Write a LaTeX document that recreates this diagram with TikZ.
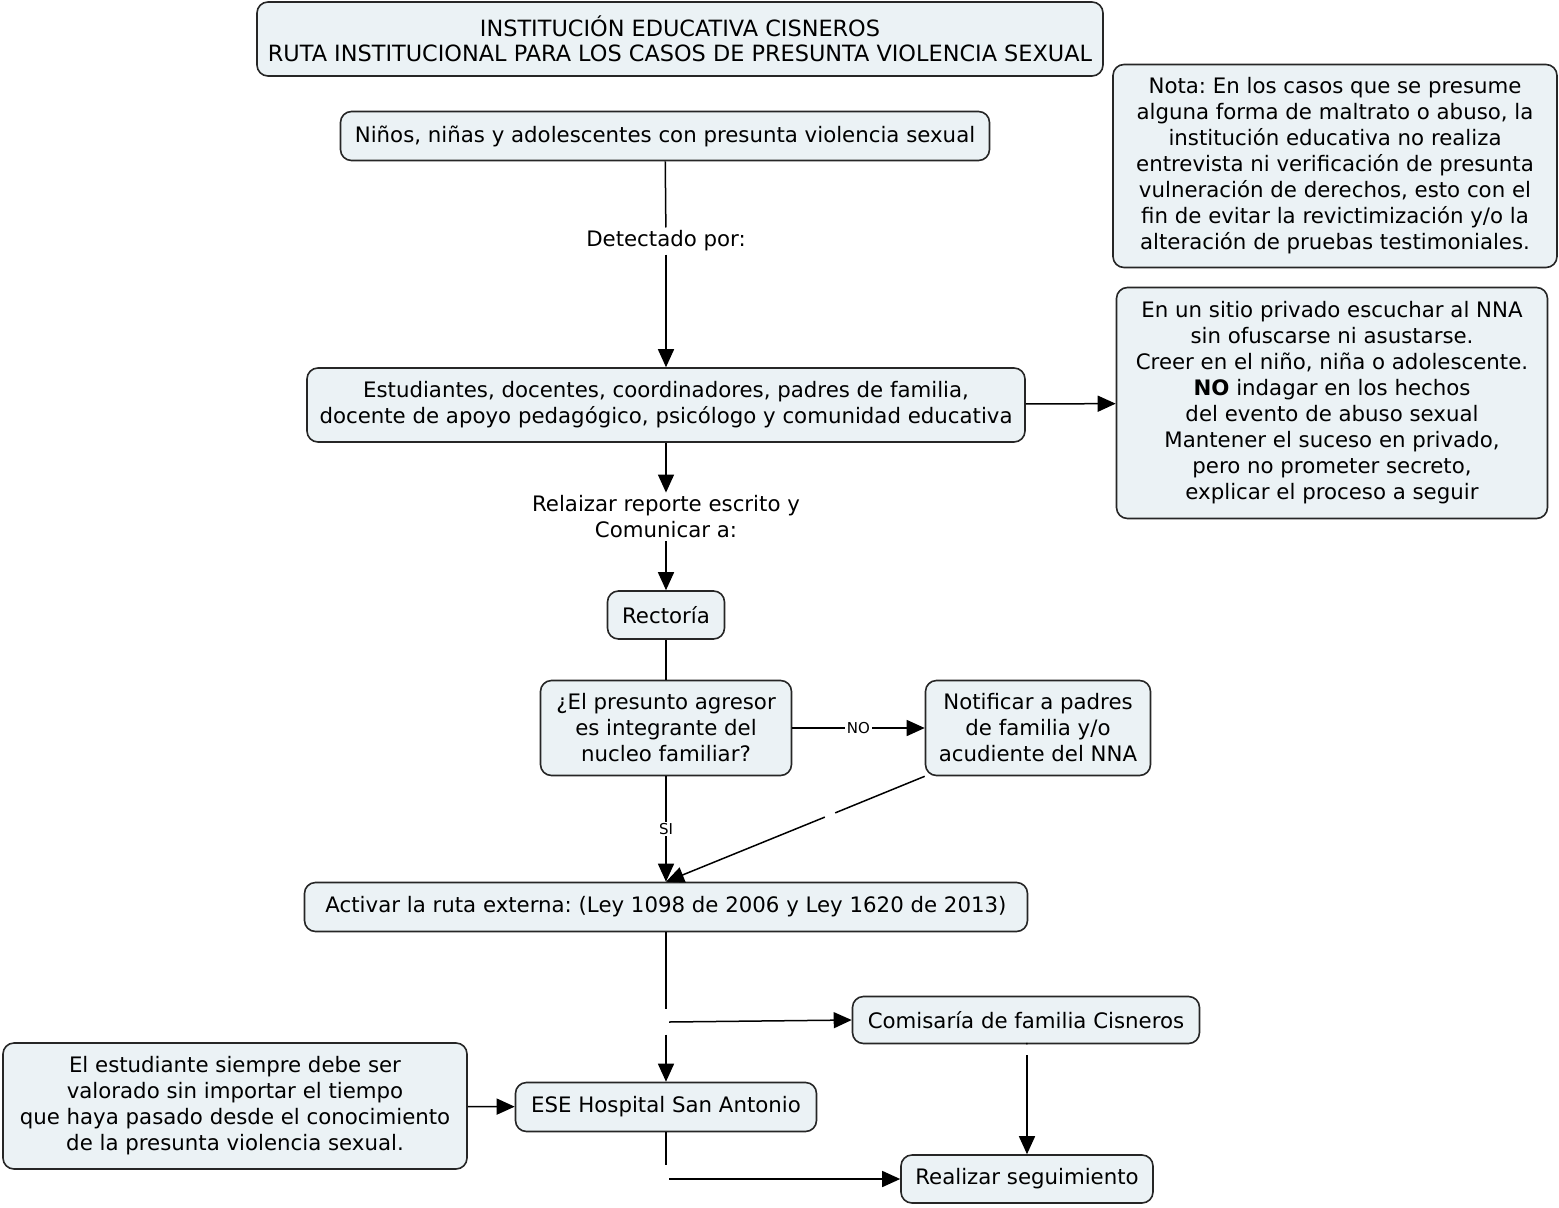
\documentclass[tikz,border=0pt]{standalone}
\usepackage{fontspec}
\setmainfont{DejaVu Sans}
\usetikzlibrary{arrows.meta, positioning}
\definecolor{boxfill}{HTML}{EBF2F5}
\frenchspacing
\tikzset{
  mapbox/.style={
    draw=black!85, fill=boxfill, line width=1.6pt, rounded corners=11pt,
    align=center, inner sep=0pt, font=\fontsize{21.3}{26}\selectfont
  },
  link/.style={line width=1.5pt, -{Triangle[length=18pt, width=16pt]}},
  plain/.style={line width=1.5pt},
  phrase/.style={font=\fontsize{21.3}{26}\selectfont, align=center, fill=white, inner sep=3pt},
  tag/.style={font=\fontsize{15}{17}\selectfont, fill=white, inner sep=1.5pt},
  gap/.style={inner sep=0pt, minimum width=6pt, minimum height=25pt}
}

\begin{document}
\begin{tikzpicture}[x=1pt, y=-1pt]
  \useasboundingbox[fill=white] (0,0) rectangle (1559,1208);

  % cajas
  \node[mapbox, minimum width=846pt, minimum height=74pt,
        font=\fontsize{22.4}{25}\selectfont] (titulo) at (680,39)
    {INSTITUCIÓN EDUCATIVA CISNEROS\\RUTA INSTITUCIONAL PARA LOS CASOS DE PRESUNTA VIOLENCIA SEXUAL};
  \node[mapbox, minimum width=444pt, minimum height=203pt] (nota) at (1335,166)
    {Nota: En los casos que se presume\\alguna forma de maltrato o abuso, la\\institución educativa no realiza\\entrevista ni verificación de presunta\\vulneración de derechos, esto con el\\fin de evitar la revictimización y/o la\\alteración de pruebas testimoniales.};
  \node[mapbox, minimum width=649pt, minimum height=49pt] (ninos) at (665,136)
    {Niños, niñas y adolescentes con presunta violencia sexual};
  \node[mapbox, minimum width=718pt, minimum height=74pt] (estud) at (666,405)
    {Estudiantes, docentes, coordinadores, padres de familia,\\docente de apoyo pedagógico, psicólogo y comunidad educativa};
  \node[mapbox, minimum width=431pt, minimum height=231pt] (sitio) at (1332,403)
    {En un sitio privado escuchar al NNA\\sin ofuscarse ni asustarse.\\Creer en el niño, niña o adolescente.\\\textbf{NO} indagar en los hechos\\del evento de abuso sexual\\Mantener el suceso en privado,\\pero no prometer secreto,\\explicar el proceso a seguir};
  \node[mapbox, minimum width=117pt, minimum height=48pt] (rect) at (666,615) {Rectoría};
  \node[mapbox, minimum width=251pt, minimum height=95pt] (preg) at (666,728)
    {¿El presunto agresor\\es integrante del\\nucleo familiar?};
  \node[mapbox, minimum width=225pt, minimum height=95pt] (notif) at (1038,728)
    {Notificar a padres\\de familia y/o\\acudiente del NNA};
  \node[mapbox, minimum width=723pt, minimum height=49pt] (act) at (666,907)
    {Activar la ruta externa: (Ley 1098 de 2006 y Ley 1620 de 2013)};
  \node[mapbox, minimum width=347pt, minimum height=47pt] (com) at (1026,1020)
    {Comisaría de familia Cisneros};
  \node[mapbox, minimum width=301pt, minimum height=49pt] (ese) at (666,1107)
    {ESE Hospital San Antonio};
  \node[mapbox, minimum width=464pt, minimum height=126pt] (valor) at (235,1106)
    {El estudiante siempre debe ser\\valorado sin importar el tiempo\\que haya pasado desde el conocimiento\\de la presunta violencia sexual.};
  \node[mapbox, minimum width=252pt, minimum height=48pt] (seg) at (1027,1179)
    {Realizar seguimiento};

  % frases de enlace y cruces
  \node[phrase] (detec) at (666,241) {Detectado por:};
  \node[phrase] (repor) at (666,517) {Relaizar reporte escrito y\\Comunicar a:};
  \node[gap] (j1) at (666,1022) {};
  \node[gap, minimum height=28pt] (j2) at (666,1179) {};
  \node[gap, minimum width=10pt, minimum height=10pt] (j3) at (830,815) {};
  \node[gap, minimum height=12pt] (j4) at (1027,1049) {};

  % conectores
  \draw[plain] (ninos) -- (detec);
  \draw[link] (detec) -- (estud);
  \draw[link] (estud) -- (sitio);
  \draw[link] (estud) -- (repor);
  \draw[link] (repor) -- (rect);
  \draw[plain] (rect) -- (preg);
  \draw[link] (preg) -- node[tag] {NO} (notif);
  \draw[link] (preg) -- node[tag] {SI} (act);
  \draw[plain] (notif.south west) -- (j3);
  \draw[link] (j3) -- (act.north);
  \draw[plain] (act) -- (j1);
  \draw[link] (j1) -- (ese);
  \draw[link] (j1.east) -- (com.west);
  \draw[plain] (com) -- (j4);
  \draw[link] (j4) -- (seg);
  \draw[link] (valor) -- (ese);
  \draw[plain] (ese) -- (j2);
  \draw[link] (j2.east) -- (seg.west);
\end{tikzpicture}
\end{document}
